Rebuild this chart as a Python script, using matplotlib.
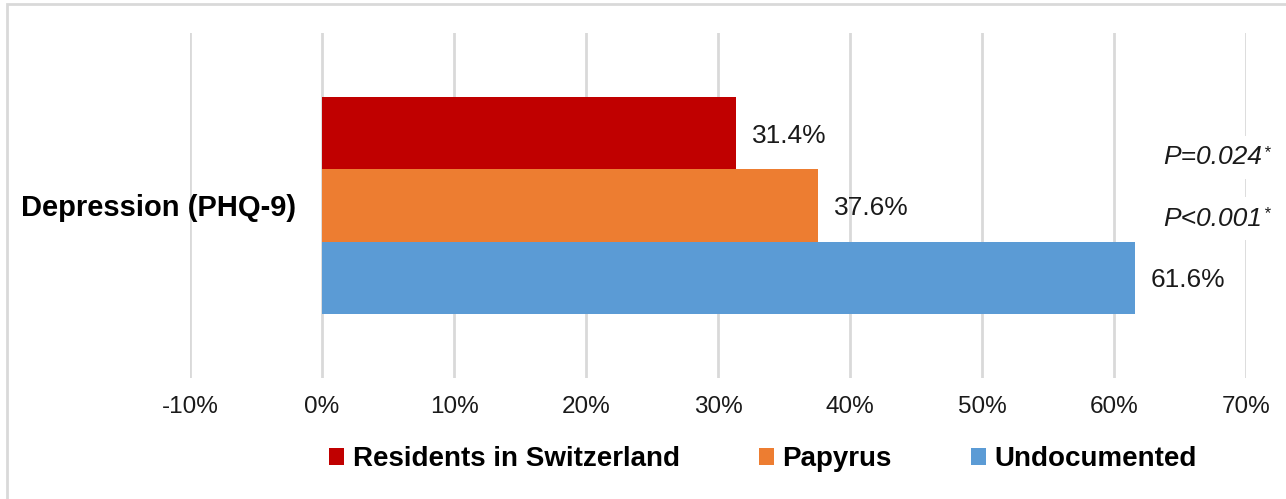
import matplotlib
matplotlib.use("Agg")
import matplotlib.pyplot as plt
from matplotlib.patches import Rectangle, Patch
from matplotlib.ticker import FuncFormatter

category = "Depression (PHQ-9)"
series = ["Residents in Switzerland", "Papyrus", "Undocumented"]
values = [31.4, 37.6, 61.6]
colors = ["#C00000", "#ED7D31", "#5B9BD5"]
pvalues = ["P=0.024", "P<0.001"]
xticks = [-10, 0, 10, 20, 30, 40, 50, 60, 70]

plt.rcParams['font.family'] = ['Liberation Sans', 'DejaVu Sans']

W, H = 1286, 499
fig = plt.figure(figsize=(W / 100, H / 100), dpi=100)

# outer chart border (only top/left visible in reference)
fig.patches.append(Rectangle((7 / W, -0.1), 1.2, 1 - 4 / H + 0.1, transform=fig.transFigure,
                             fill=False, edgecolor="#D9D9D9", linewidth=2, zorder=0))

ax = fig.add_axes([190 / W, 1 - 378 / H, (1246 - 190) / W, (378 - 33) / H])
ax.set_xlim(-10, 70)
ax.set_ylim(-0.5, 0.5)

h = 0.2087
ypos = [h, 0, -h]
for y, v, c in zip(ypos, values, colors):
    ax.barh(y, v, height=h, color=c, zorder=2)
    ax.annotate(f"{v:.1f}%", xy=(v, y), xytext=(16, 0), textcoords="offset pixels",
                ha="left", va="center_baseline", fontsize=19, color="#1A1A1A", zorder=3)

ax.set_xticks(xticks)
ax.xaxis.set_major_formatter(FuncFormatter(lambda x, p: f"{x:.0f}%"))
ax.tick_params(axis="x", length=0, labelsize=17.5, pad=13, labelcolor="#1A1A1A")
ax.set_yticks([])
ax.grid(axis="x", color="#D9D9D9", linewidth=2, zorder=0)
ax.set_axisbelow(True)
for s in ax.spines.values():
    s.set_visible(False)

# category label
fig.text(296 / W, 1 - 205 / H, category, ha="right", va="center_baseline",
         fontsize=21, fontweight="bold", color="black", zorder=4)

# p-value annotations
for txt, yc in zip(pvalues, [155, 216]):
    fig.text(1262 / W, 1 - yc / H, txt, ha="right", va="center_baseline", fontsize=19,
             fontstyle="italic", color="#1A1A1A",
             bbox=dict(facecolor="white", edgecolor="none", pad=7), zorder=5)
    fig.text(1263 / W, 1 - (yc - 2) / H, "*", ha="left", va="center", fontsize=12,
             fontstyle="italic", color="#1A1A1A", zorder=6)

handles = [Patch(facecolor=c, edgecolor="none") for c in colors]
leg = fig.legend(handles, series, loc="center", bbox_to_anchor=(763 / W, 1 - 459 / H),
                 ncol=3, frameon=False, prop={"size": 20, "weight": "bold"},
                 handlelength=0.55, handleheight=0.55, handletextpad=0.3, columnspacing=2.85)

fig.savefig("out.png", dpi=100)
